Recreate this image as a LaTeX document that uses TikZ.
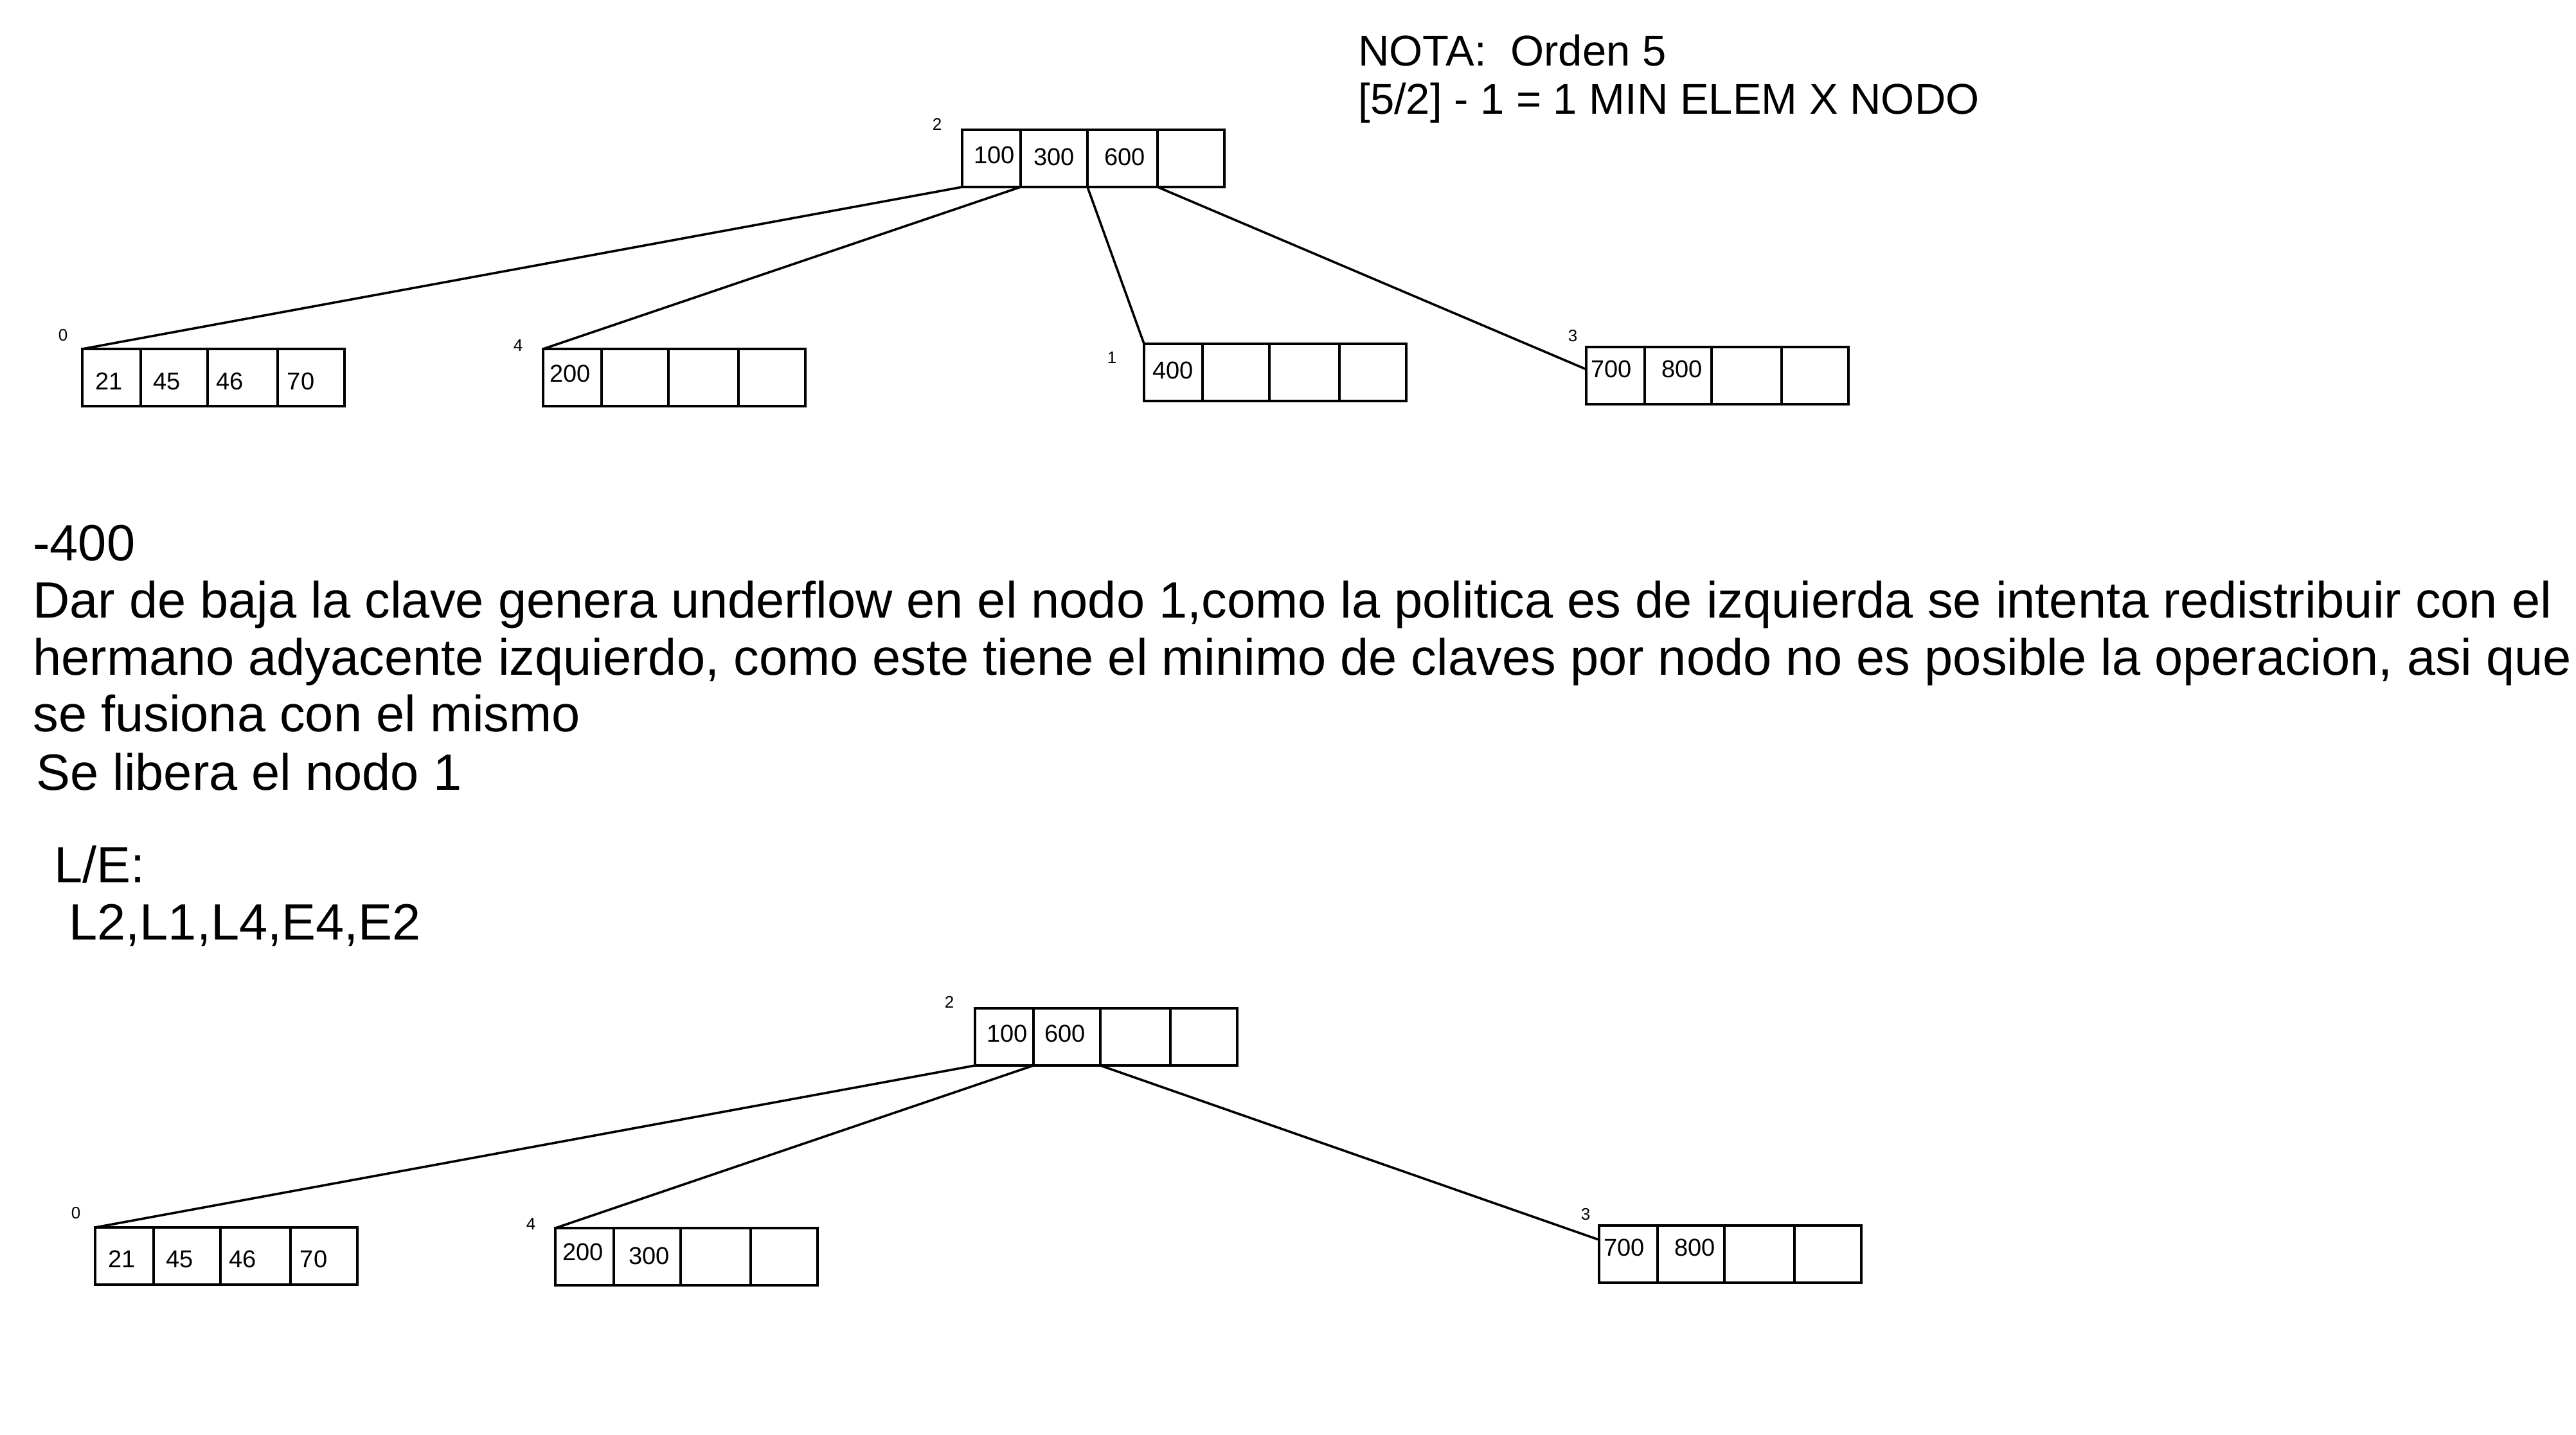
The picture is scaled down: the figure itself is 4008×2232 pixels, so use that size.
\documentclass[tikz,border=0pt]{standalone}
\usepackage{fontspec}
\setmainfont{Liberation Sans}
\usetikzlibrary{calc}
\tikzset{
  cell/.style={draw,line width=2pt,inner sep=0pt,outer sep=0pt,minimum height=44.5pt,anchor=north west},
  key/.style={inner sep=0pt,anchor=base,font=\fontsize{19}{20}\selectfont},
  lbl/.style={inner sep=0pt,anchor=center,font=\fontsize{13}{14}\selectfont},
  big/.style={inner sep=0pt,anchor=base west,font=\fontsize{39.7}{44}\selectfont},
  note/.style={inner sep=0pt,anchor=base west,font=\fontsize{33.5}{37}\selectfont},
  link/.style={line width=1.8pt,line cap=round}
}
\newcommand\bnode[3]{%
  \node[cell,minimum width=45.5pt] (#1-1) at (#2,#3) {};
  \node[cell,minimum width=52pt] (#1-2) at (#1-1.north east) {};
  \node[cell,minimum width=54.5pt] (#1-3) at (#1-2.north east) {};
  \node[cell,minimum width=52pt] (#1-4) at (#1-3.north east) {};
}
\begin{document}
\begin{tikzpicture}[x=0.5pt,y=-0.5pt]
\useasboundingbox (0,0) rectangle (4008,2232);
\fill[white] (0,0) rectangle (4008,2232);

% ---------- top tree ----------
\bnode{rT}{1497}{202}
\bnode{aT}{128}{543}
\bnode{bT}{845}{543}
\bnode{cT}{1780}{535}
\bnode{dT}{2468}{540}

\node[lbl] (nrT) at (1458,193) {2};
\node[lbl] (naT) at (98,522) {0};
\node[lbl] (nbT) at (806,538) {4};
\node[lbl] (ncT) at (1730,557) {1};
\node[lbl] (ndT) at (2447,523) {3};

\node[key] (krT1) at (1547,254) {100};
\node[key] (krT2) at (1640,257) {300};
\node[key] (krT3) at (1750,257) {600};
\node[key] (kaT1) at (170,606) {21};
\node[key] (kaT2) at (260,606) {45};
\node[key] (kaT3) at (358,606) {46};
\node[key] (kaT4) at (468,606) {70};
\node[key] (kbT1) at (887,594) {200};
\node[key] (kcT1) at (1825,589) {400};
\node[key] (kdT1) at (2507,587) {700};
\node[key] (kdT2) at (2617,587) {800};

\coordinate (eT) at ($(dT-1.north west)!0.39!(dT-1.south west)$);
\draw[link] (rT-1.south west) -- (aT-1.north west);
\draw[link] (rT-1.south east) -- (bT-1.north west);
\draw[link] (rT-2.south east) -- (cT-1.north west);
\draw[link] (rT-3.south east) -- (eT);

% ---------- note ----------
\node[note] (t0) at (2113,103) {NOTA:\ \ Orden 5};
\node[note] (t0b) at (2113,177) {[5/2] - 1 = 1 MIN ELEM X NODO};

% ---------- explanation ----------
\node[big] (t1) at (51,872) {-400};
\node[big] (t2) at (51,961) {Dar de baja la clave genera underflow en el nodo 1,como la politica es de izquierda se intenta redistribuir con el};
\node[big] (t3) at (51,1050) {hermano adyacente izquierdo, como este tiene el minimo de claves por nodo no es posible la operacion, asi que};
\node[big] (t4) at (51,1138) {se fusiona con el mismo};
\node[big] (t5) at (56,1229) {Se libera el nodo 1};
\node[big] (t6) at (84,1373) {L/E:};
\node[big] (t7) at (107,1462) {L2,L1,L4,E4,E2};

% ---------- bottom tree ----------
\bnode{rB}{1517}{1569}
\bnode{aB}{148}{1910}
\bnode{bB}{864}{1911}
\bnode{dB}{2488}{1907}

\node[lbl] (nrB) at (1477,1559) {2};
\node[lbl] (naB) at (118,1888) {0};
\node[lbl] (nbB) at (826,1905) {4};
\node[lbl] (ndB) at (2467,1890) {3};

\node[key] (krB1) at (1567,1621) {100};
\node[key] (krB2) at (1657,1621) {600};
\node[key] (kaB1) at (190,1972) {21};
\node[key] (kaB2) at (280,1972) {45};
\node[key] (kaB3) at (378,1972) {46};
\node[key] (kaB4) at (488,1972) {70};
\node[key] (kbB1) at (907,1961) {200};
\node[key] (kbB2) at (1010,1967) {300};
\node[key] (kdB1) at (2527,1954) {700};
\node[key] (kdB2) at (2637,1954) {800};

\coordinate (eB) at ($(dB-1.north west)!0.25!(dB-1.south west)$);
\draw[link] (rB-1.south west) -- (aB-1.north west);
\draw[link] (rB-1.south east) -- (bB-1.north west);
\draw[link] (rB-2.south east) -- (eB);
\end{tikzpicture}
\end{document}
